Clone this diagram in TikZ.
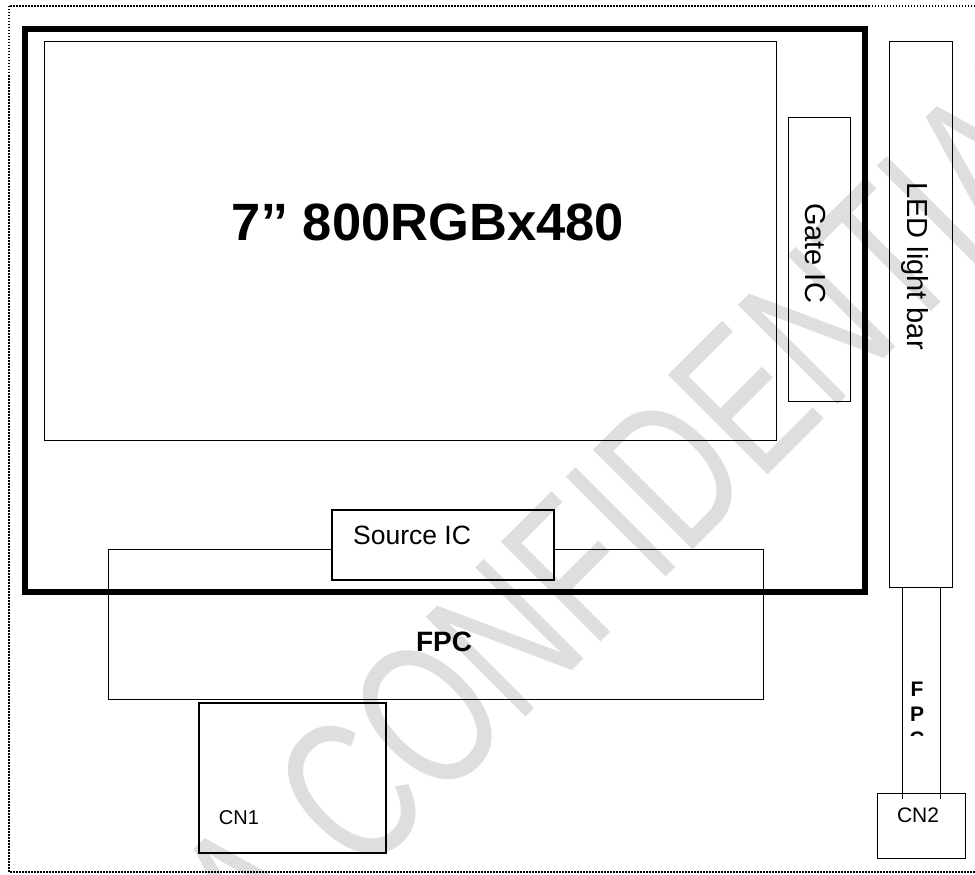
\documentclass[tikz,border=0pt]{standalone}
\usepackage{fontspec}
\setmainfont{Liberation Sans}
\definecolor{wmgray}{HTML}{DEDEDE}
\tikzset{
    box/.style n args={2}{draw, anchor=north west, inner sep=0pt, outer sep=0pt, line width=1pt, minimum width=#1pt, minimum height=#2pt},
    lbl/.style={inner sep=0pt, font=\fontsize{#1}{#1}\selectfont},
    lblb/.style={inner sep=0pt, font=\fontsize{#1}{#1}\selectfont\bfseries}
}
\begin{document}
\begin{tikzpicture}[x=1pt,y=-1pt]
\useasboundingbox (0,0) rectangle (975,875);

% ===== Watermark =====
\begin{scope}
\clip (0,0) rectangle (975,875);
\node[inner sep=0pt, anchor=base west, rotate=45, text=wmgray, xscale=0.716, transform shape] (wmark)
    at (264,979) {\fontsize{205}{205}\selectfont A CONFIDENTIAL};
\draw[dash pattern=on 1.5pt off 1.5pt, line width=1.5pt] (9,6) rectangle (985,872);
\end{scope}

% ===== Panel =====
\node[box={732}{398}] (panel) at (44,42) {};
\node[box={62}{284}] (gate) at (788,117) {};
\node[box={63}{545}] (led) at (889,42) {};
\node[lblb=52.5] (title) at (428,222) {7’’ 800RGBx480};
\node[lbl=29, rotate=-90] (gatetxt) at (815,253) {Gate IC};
\node[lbl=29, rotate=-90] (ledtxt) at (915,266) {LED light bar};

% ===== FPC and Source IC =====
\node[inner sep=0pt, outer sep=0pt, anchor=north west, minimum width=655pt, minimum height=150pt] (fpc) at (108,549) {};
\node[box={222}{70}, line width=1.5pt] (source) at (332,510) {};
\draw[line width=1pt] (source.west |- fpc.north) -- (fpc.north west) -- (fpc.south west)
    -- (fpc.south east) -- (fpc.north east) -- (source.east |- fpc.north);
\node[lbl=26.5, anchor=west] (sourcetxt) at (353,535) {Source IC};
\node[lblb=28] (fpctxt) at (444,642) {FPC};

% ===== Frame =====
\node[box={839.5}{563}, line width=6pt] (frame) at (25,29) {};

% ===== Connectors =====
\node[box={187}{150}, line width=2pt] (cnone) at (199,703) {};
\node[lbl=20] (cnonetxt) at (239,818) {CN1};
\node[box={88}{65}] (cntwo) at (877,793) {};
\node[lbl=21] (cntwotxt) at (918,815) {CN2};

% ===== Strip =====
\coordinate (stripa) at (902,799);
\coordinate (stripb) at (940,799);
\draw[line width=1pt] (led.south -| stripa) -- (stripa);
\draw[line width=1pt] (led.south -| stripb) -- (stripb);
\begin{scope}
\clip (905,675) rectangle (935,735.5);
\node[lblb=21, align=center, anchor=north, font=\fontsize{21}{25}\selectfont\bfseries] (striptxt) at (917,682) {F\\P\\C};
\end{scope}

\end{tikzpicture}
\end{document}
